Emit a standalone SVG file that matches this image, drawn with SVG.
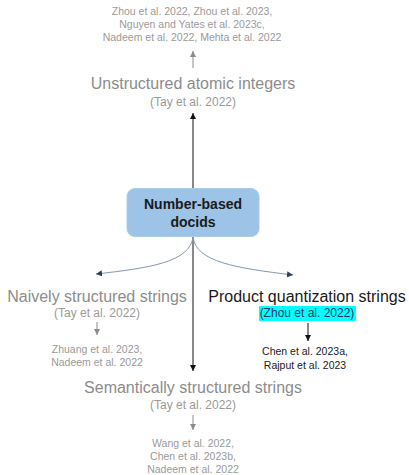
<svg xmlns="http://www.w3.org/2000/svg" width="409" height="475" viewBox="0 0 409 475">
<defs>
<style>
text{font-family:"Liberation Sans",Arial,sans-serif;text-anchor:middle}
.ref{font-size:10.5px;fill:#9a9a9a}
.refk{font-size:10.5px;fill:#222}
.big{font-size:16px;fill:#8c8c8c}
.bigk{font-size:16px;fill:#1a1a1a}
.cit{font-size:12px;fill:#9a9a9a}
.node{font-size:14px;font-weight:bold;fill:#1a1a1a}
</style>
<marker id="ak" markerWidth="8" markerHeight="8" refX="6" refY="4" orient="auto" markerUnits="userSpaceOnUse"><path d="M0,1 L6,4 L0,7 z" fill="#111"/></marker>
<marker id="ag" markerWidth="8" markerHeight="8" refX="6" refY="4" orient="auto" markerUnits="userSpaceOnUse"><path d="M0,1 L6,4 L0,7 z" fill="#8c8c8c"/></marker>
<marker id="ab" markerWidth="8" markerHeight="8" refX="6" refY="4" orient="auto" markerUnits="userSpaceOnUse"><path d="M0,1 L6,4 L0,7 z" fill="#2f3e57"/></marker>
</defs>
<g id="connectors">
<line x1="193" y1="189" x2="193" y2="113" stroke="#111" stroke-width="1" marker-end="url(#ak)"/>
<line x1="193" y1="68" x2="193" y2="51" stroke="#8c8c8c" stroke-width="1" marker-end="url(#ag)"/>
<line x1="193" y1="237" x2="193" y2="371" stroke="#111" stroke-width="1" marker-end="url(#ak)"/>
<path d="M193,237 C190,262 150,268 96,274" fill="none" stroke="#8497b0" stroke-width="1" marker-end="url(#ab)"/>
<path d="M193,237 C196,262 236,268 293,275" fill="none" stroke="#8497b0" stroke-width="1" marker-end="url(#ab)"/>
<line x1="97" y1="322" x2="97" y2="335" stroke="#8c8c8c" stroke-width="1" marker-end="url(#ag)"/>
<line x1="308" y1="323" x2="308" y2="341" stroke="#111" stroke-width="1" marker-end="url(#ak)"/>
<line x1="193" y1="415" x2="193" y2="430" stroke="#8c8c8c" stroke-width="1" marker-end="url(#ag)"/>
</g>
<g id="node-root">
<rect x="127" y="188.5" width="132" height="48" rx="8" fill="#9dc3e6" stroke="#a9cbe9" stroke-width="1"/>
<text class="node" x="193" y="209">Number-based</text>
<text class="node" x="193" y="227">docids</text>
</g>
<g id="node-unstructured">
<text class="big" x="193" y="89">Unstructured atomic integers</text>
<text class="cit" x="193" y="106">(Tay et al. 2022)</text>
</g>
<g id="refs-unstructured">
<text class="ref" x="192" y="15">Zhou et al. 2022, Zhou et al. 2023,</text>
<text class="ref" x="192" y="28">Nguyen and Yates et al. 2023c,</text>
<text class="ref" x="192" y="41">Nadeem et al. 2022, Mehta et al. 2022</text>
</g>
<g id="node-naive">
<text class="big" x="97" y="302">Naively structured strings</text>
<text class="cit" x="97" y="317">(Tay et al. 2022)</text>
</g>
<g id="refs-naive">
<text class="ref" x="97" y="353">Zhuang et al. 2023,</text>
<text class="ref" x="97" y="366">Nadeem et al. 2022</text>
</g>
<g id="node-pq">
<text class="bigk" x="307" y="302">Product quantization strings</text>
<rect x="259" y="306" width="97" height="15" fill="#00ffff"/>
<text class="cit" x="307" y="317" style="fill:#1f3864">(Zhou et al. 2022)</text>
</g>
<g id="refs-pq">
<text class="refk" x="305" y="355">Chen et al. 2023a,</text>
<text class="refk" x="305" y="369">Rajput et al. 2023</text>
</g>
<g id="node-semantic">
<text class="big" x="193" y="393">Semantically structured strings</text>
<text class="cit" x="193" y="409">(Tay et al. 2022)</text>
</g>
<g id="refs-semantic">
<text class="ref" x="193" y="447">Wang et al. 2022,</text>
<text class="ref" x="193" y="460">Chen et al. 2023b,</text>
<text class="ref" x="193" y="473">Nadeem et al. 2022</text>
</g>
</svg>
